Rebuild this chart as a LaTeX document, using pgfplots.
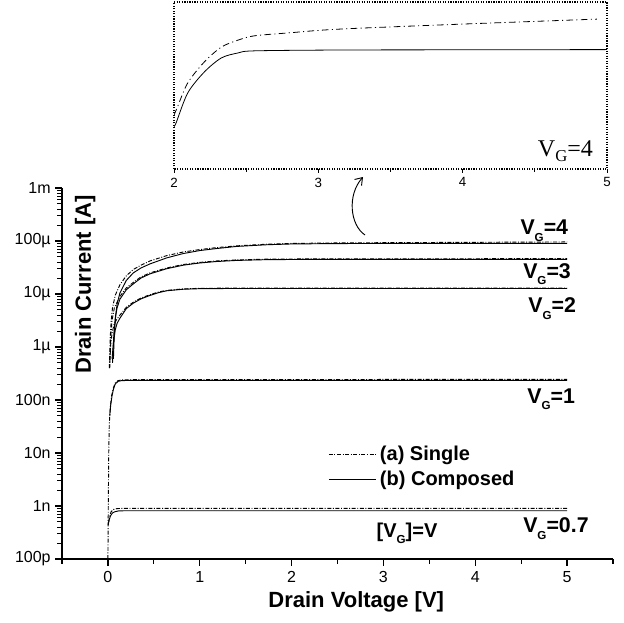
\documentclass[border=0pt]{standalone}
\usepackage{fontspec}
\setmainfont{Liberation Sans}
\newfontfamily\seriffont{Liberation Serif}
\usepackage{pgfplots}
\pgfplotsset{compat=1.18}
\usetikzlibrary{arrows.meta}

% bold V with a low, small G
\newcommand{\vg}{V\raisebox{-5pt}{\fontsize{8.7}{9}\selectfont G}}

\tikzset{
  single/.style={black, line width=0.7pt, dash pattern=on 3pt off 1.2pt on 0.7pt off 1.2pt},
  composed/.style={black, line width=0.7pt},
  lbl/.style={inner sep=0pt, font=\bfseries\fontsize{16}{18}\selectfont},
}

\begin{document}
\begin{tikzpicture}
\begin{axis}[
  at={(46.5pt,47.25pt)}, anchor=south west,
  scale only axis, width=413.25pt, height=278.25pt,
  xmin=-0.5, xmax=5.5,
  ymode=log, ymin=1e-10, ymax=1e-3,
  axis x line*=bottom, axis y line*=left,
  axis line style={-, line width=1pt},
  xtick pos=left, ytick pos=left,
  xtick={0,...,5}, minor xtick={-0.5,0.5,1.5,2.5,3.5,4.5,5.5},
  ytick={1e-10,1e-9,1e-8,1e-7,1e-6,1e-5,1e-4,1e-3},
  yticklabels={100p,1n,10n,100n,1µ,10µ,100µ,1m},
  tick align=outside,
  major tick length=5pt, minor tick length=3.5pt,
  every major tick/.style={black, line width=0.9pt},
  every minor tick/.style={black, line width=0.8pt},
  ticklabel style={font=\fontsize{12}{14}\selectfont},
  /pgf/number format/assume math mode=true,
  xticklabel style={yshift=-1pt},
  xlabel={Drain Voltage [V]}, ylabel={Drain Current [A]},
  every axis x label/.style={at={(axis description cs:0.534,-0.132)}, anchor=base,
    font=\bfseries\fontsize{16.5}{18}\selectfont},
  every axis y label/.style={at={(axis description cs:0.0526,0.74)}, anchor=base, rotate=90,
    font=\bfseries\fontsize{16.5}{18}\selectfont},
  legend style={at={(axis description cs:0.483,0.31)}, anchor=north west,
    draw=none, fill=none, inner sep=0pt, row sep=3pt,
    font=\bfseries\fontsize{15}{17}\selectfont, nodes={inner ysep=1.5pt, inner xsep=3pt}},
  legend cell align=left,
  legend image code/.code={\draw[#1] (0pt,0pt) -- (35pt,0pt);},
]
% V_G = 4
\addplot[single] coordinates {(0.015,4.0e-7) (0.025,1.5e-6) (0.035,3.0e-6) (0.05,5.5e-6) (0.08,9.5e-6) (0.131,1.5e-5) (0.2,2.2e-5) (0.276,2.9e-5) (0.36,3.5e-5) (0.458,4.2e-5) (0.64,5.3e-5) (0.82,6.2e-5) (1.0,6.9e-5) (1.18,7.5e-5) (1.4,8.1e-5) (1.73,8.7e-5) (2.0,9.0e-5) (2.5,9.2e-5) (3.0,9.3e-5) (4.0,9.45e-5) (5.0,9.6e-5)};
\addlegendentry{(a) Single}
\addplot[composed] coordinates {(0.06,6.0e-7) (0.07,1.8e-6) (0.085,4.0e-6) (0.1,6.5e-6) (0.131,1.05e-5) (0.2,1.8e-5) (0.276,2.5e-5) (0.36,3.1e-5) (0.458,3.7e-5) (0.64,4.8e-5) (0.82,5.8e-5) (1.0,6.6e-5) (1.18,7.2e-5) (1.4,7.9e-5) (1.73,8.5e-5) (2.0,8.8e-5) (2.5,8.95e-5) (3.0,9.0e-5) (5.0,9.0e-5)};
\addlegendentry{(b) Composed}
% V_G = 3
\addplot[single, forget plot] coordinates {(0.02,4.0e-7) (0.03,1.5e-6) (0.045,3.2e-6) (0.07,5.5e-6) (0.131,9.0e-6) (0.2,1.3e-5) (0.276,1.65e-5) (0.36,2.1e-5) (0.458,2.5e-5) (0.64,3.1e-5) (0.82,3.6e-5) (1.0,3.95e-5) (1.18,4.2e-5) (1.4,4.4e-5) (1.73,4.55e-5) (2.2,4.6e-5) (5.0,4.65e-5)};
\addplot[composed, forget plot] coordinates {(0.05,5.0e-7) (0.065,1.8e-6) (0.08,3.5e-6) (0.1,5.5e-6) (0.131,8.0e-6) (0.2,1.2e-5) (0.276,1.55e-5) (0.36,2.0e-5) (0.458,2.4e-5) (0.64,3.0e-5) (0.82,3.5e-5) (1.0,3.85e-5) (1.18,4.1e-5) (1.4,4.3e-5) (1.73,4.45e-5) (2.2,4.5e-5) (5.0,4.5e-5)};
% V_G = 2
\addplot[single, forget plot] coordinates {(0.02,5.0e-7) (0.03,1.1e-6) (0.045,1.8e-6) (0.065,2.6e-6) (0.09,3.2e-6) (0.131,4.0e-6) (0.2,5.6e-6) (0.276,7.0e-6) (0.36,8.4e-6) (0.458,9.7e-6) (0.55,1.09e-5) (0.64,1.17e-5) (0.82,1.25e-5) (1.0,1.28e-5) (1.3,1.29e-5) (5.0,1.3e-5)};
\addplot[composed, forget plot] coordinates {(0.045,6.0e-7) (0.06,1.2e-6) (0.08,2.1e-6) (0.1,2.8e-6) (0.131,3.5e-6) (0.2,5.3e-6) (0.276,6.7e-6) (0.36,8.1e-6) (0.458,9.4e-6) (0.55,1.06e-5) (0.64,1.15e-5) (0.82,1.23e-5) (1.0,1.26e-5) (1.3,1.27e-5) (5.0,1.27e-5)};
% V_G = 1
\addplot[single, forget plot] coordinates {(0.0,1.0e-10) (0.004,1.0e-9) (0.009,1.0e-8) (0.015,3.5e-8) (0.025,7.0e-8) (0.04,1.2e-7) (0.06,1.7e-7) (0.08,2.1e-7) (0.11,2.32e-7) (0.16,2.4e-7) (0.3,2.43e-7) (5.0,2.45e-7)};
\addplot[composed, forget plot] coordinates {(0.02,5.0e-8) (0.03,8.0e-8) (0.045,1.2e-7) (0.06,1.6e-7) (0.08,2.0e-7) (0.11,2.25e-7) (0.15,2.32e-7) (0.25,2.35e-7) (5.0,2.35e-7)};
% V_G = 0.7
\addplot[single, forget plot] coordinates {(0.008,5.0e-10) (0.02,6.5e-10) (0.035,7.8e-10) (0.06,8.6e-10) (0.1,8.95e-10) (0.2,9.05e-10) (5.0,9.05e-10)};
\addplot[composed, forget plot] coordinates {(0.003,4.4e-10) (0.015,5.6e-10) (0.03,6.6e-10) (0.05,7.4e-10) (0.076,7.8e-10) (0.12,8.1e-10) (0.2,8.15e-10) (5.0,8.15e-10)};

\node[lbl, anchor=base west] at (axis cs:4.49,1.30e-4) {\vg=4};
\node[lbl, anchor=base west] at (axis cs:4.52,2.0e-5) {\vg=3};
\node[lbl, anchor=base west] at (axis cs:4.575,4.39e-6) {\vg=2};
\node[lbl, anchor=base west] at (axis cs:4.564,8.77e-8) {\vg=1};
\node[lbl, anchor=base west] at (axis cs:4.52,3.1e-10) {\vg=0.7};
\node[lbl, anchor=base, font=\bfseries\fontsize{15}{17}\selectfont] at (axis cs:3.257,2.6e-10) {[\vg]=V};
\end{axis}

% zoomed inset of V_G = 4
\begin{axis}[
  at={(130.5pt,339.75pt)}, anchor=south west,
  scale only axis, width=324.75pt, height=125.25pt,
  xmin=2, xmax=5, ymin=60, ymax=100,
  axis line style={densely dotted, line width=0.9pt},
  xtick={2,3,4,5}, minor xtick={2.5,3.5,4.5}, ytick=\empty,
  xtick pos=left, tick align=outside,
  major tick length=3pt, minor tick length=2pt,
  every major tick/.style={solid, black, line width=0.6pt},
  every minor tick/.style={solid, black, line width=0.6pt},
  ticklabel style={font=\fontsize{10}{12}\selectfont},
  /pgf/number format/assume math mode=true,
]
\addplot[black, line width=0.6pt, smooth, dash pattern=on 5pt off 2.5pt on 0.8pt off 2.5pt] coordinates {(2.0,72.9) (2.021,74.6) (2.095,80.6) (2.209,85.6) (2.328,89.2) (2.446,90.9) (2.557,91.9) (2.794,92.6) (3.143,93.5) (3.99,94.7) (4.93,95.9)};
\addplot[black, line width=0.6pt, smooth] coordinates {(2.0,70.3) (2.014,71.0) (2.095,78.2) (2.209,83.2) (2.328,86.6) (2.444,87.8) (2.557,88.3) (3.143,88.5) (4.0,88.55) (5.0,88.6)};
\node[anchor=base west, inner sep=0pt, font=\seriffont\fontsize{18}{20}\selectfont] at (rel axis cs:0.84,0.074) {V\raisebox{-4pt}{\fontsize{12.5}{13}\selectfont G}=4};
\end{axis}

\draw[line width=0.7pt, -{Straight Barb[length=5pt,width=7pt]}] (273.75pt,290.25pt) .. controls (262.5pt,297.75pt) and (260.25pt,320.25pt) .. (272.25pt,333.75pt);

\pgfresetboundingbox
\path[use as bounding box] (0pt,0pt) rectangle (468pt,466.5pt);
\end{tikzpicture}
\end{document}
